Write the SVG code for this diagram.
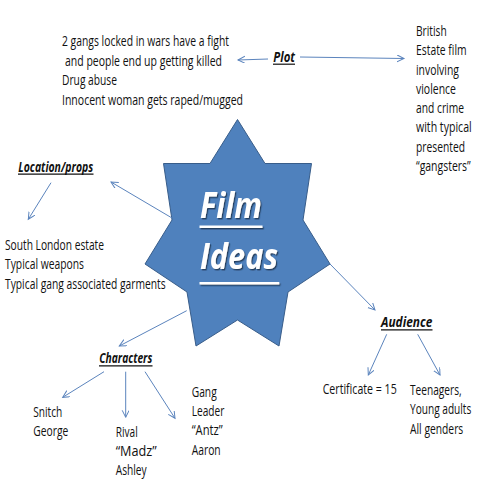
<svg xmlns="http://www.w3.org/2000/svg" width="480" height="480" viewBox="0 0 480 480">
<style>
.t{font-family:"Open Sans","Noto Sans","Liberation Sans",sans-serif;font-size:15px;fill:#111;transform:scale(0.7,1);transform-origin:0 0}
.h{font-family:"Open Sans","Noto Sans","Liberation Sans",sans-serif;font-size:15px;font-weight:bold;font-style:italic;fill:#111;transform:scale(0.7,1);transform-origin:0 0}
.ul{stroke:#111;stroke-width:1.2}
.big{font-family:"Open Sans","Noto Sans","Liberation Sans",sans-serif;font-size:36px;font-weight:bold;font-style:italic;fill:#fff}
.wl{stroke:#fff;stroke-width:2.6}
.c{stroke:#5b84bd;stroke-width:1;fill:none;marker-end:url(#ah)}
</style>
<defs>
<marker id="ah" markerUnits="userSpaceOnUse" markerWidth="10" markerHeight="10" refX="7" refY="3.5" orient="auto">
<path d="M0,0 L7,3.5 L0,7" fill="none" stroke="#5b84bd" stroke-width="1"/>
</marker>
<filter id="sh" x="-10%" y="-10%" width="130%" height="130%">
<feDropShadow dx="1.2" dy="1.4" stdDeviation="0.6" flood-color="#1c2f48" flood-opacity="0.8"/>
</filter>
</defs>
<rect width="480" height="480" fill="#fff"/>

<g id="film-ideas">
<polygon points="237.5,119.5 265,163.5 311.5,163.5 303,220 330,264 288,292 279,346 237.5,320 196,346 187,292 145,264 172,220 163.5,163.5 210,163.5" fill="#4f81bd" stroke="#385d8a" stroke-width="1"/>
<g filter="url(#sh)">
<text class="big" x="200" y="218.3" textLength="62" lengthAdjust="spacingAndGlyphs">Film</text>
<line class="wl" x1="199.5" y1="226.7" x2="262.5" y2="226.7"/>
<text class="big" x="200" y="269.3" textLength="78" lengthAdjust="spacingAndGlyphs">Ideas</text>
<line class="wl" x1="199.5" y1="283.3" x2="279.3" y2="283.3"/>
</g>
</g>

<g id="connectors">
<line class="c" x1="268" y1="59" x2="238" y2="60"/>
<line class="c" x1="300" y1="57" x2="404" y2="58.5"/>
<line class="c" x1="172" y1="218" x2="111" y2="182"/>
<line class="c" x1="51" y1="182.7" x2="28.3" y2="219.3"/>
<line class="c" x1="186.7" y1="310.7" x2="119.3" y2="346"/>
<line class="c" x1="104" y1="371.7" x2="62.7" y2="397.3"/>
<line class="c" x1="125.7" y1="371.7" x2="125.7" y2="417.3"/>
<line class="c" x1="145" y1="371.7" x2="175" y2="418.3"/>
<line class="c" x1="330" y1="264" x2="375" y2="310"/>
<line class="c" x1="386.7" y1="334.3" x2="368.3" y2="375"/>
<line class="c" x1="417.7" y1="334.3" x2="440" y2="375"/>
</g>

<g id="plot">
<text class="h" x="390.43" y="61.7" textLength="31" lengthAdjust="spacingAndGlyphs">Plot</text>
<line class="ul" x1="273" y1="64.2" x2="295" y2="64.2"/>
</g>

<g id="plot-details">
<text class="t" x="88.57" y="46.5" textLength="238.57" lengthAdjust="spacingAndGlyphs">2 gangs locked in wars have a fight</text>
<text class="t" x="92.86" y="66" textLength="224.29" lengthAdjust="spacingAndGlyphs">and people end up getting killed</text>
<text class="t" x="88.57" y="85.3" textLength="78.57" lengthAdjust="spacingAndGlyphs">Drug abuse</text>
<text class="t" x="88.57" y="104.6" textLength="258.57" lengthAdjust="spacingAndGlyphs">Innocent woman gets raped/mugged</text>
</g>

<g id="genre">
<text class="t" x="594.29" y="36" textLength="43.86" lengthAdjust="spacingAndGlyphs">British</text>
<text class="t" x="594.29" y="55.3" textLength="72.43" lengthAdjust="spacingAndGlyphs">Estate film</text>
<text class="t" x="594.29" y="74.6" textLength="61.43" lengthAdjust="spacingAndGlyphs">involving</text>
<text class="t" x="594.29" y="93.9" textLength="57.14" lengthAdjust="spacingAndGlyphs">violence</text>
<text class="t" x="594.29" y="113.2" textLength="68.57" lengthAdjust="spacingAndGlyphs">and crime</text>
<text class="t" x="594.29" y="132.5" textLength="79.57" lengthAdjust="spacingAndGlyphs">with typical</text>
<text class="t" x="594.29" y="151.8" textLength="70" lengthAdjust="spacingAndGlyphs">presented</text>
<text class="t" x="594.29" y="171.1" textLength="78.14" lengthAdjust="spacingAndGlyphs">“gangsters”</text>
</g>

<g id="location">
<text class="h" x="26.14" y="171.7" textLength="107.14" lengthAdjust="spacingAndGlyphs">Location/props</text>
<line class="ul" x1="18" y1="174.2" x2="93.5" y2="174.2"/>
</g>

<g id="location-details">
<text class="t" x="7.14" y="250" textLength="141.43" lengthAdjust="spacingAndGlyphs">South London estate</text>
<text class="t" x="7.14" y="269.3" textLength="112.86" lengthAdjust="spacingAndGlyphs">Typical weapons</text>
<text class="t" x="7.14" y="288.6" textLength="229.57" lengthAdjust="spacingAndGlyphs">Typical gang associated garments</text>
</g>

<g id="characters">
<text class="h" x="141.86" y="363.3" textLength="75.71" lengthAdjust="spacingAndGlyphs">Characters</text>
<line class="ul" x1="99" y1="365.8" x2="152.5" y2="365.8"/>
</g>

<g id="snitch">
<text class="t" x="47.57" y="416.7" textLength="41.43" lengthAdjust="spacingAndGlyphs">Snitch</text>
<text class="t" x="47.57" y="436" textLength="50" lengthAdjust="spacingAndGlyphs">George</text>
</g>

<g id="rival">
<text class="t" x="165.29" y="436.7" textLength="31.43" lengthAdjust="spacingAndGlyphs">Rival</text>
<text class="t" x="165.29" y="456" textLength="58.57" lengthAdjust="spacingAndGlyphs">“Madz”</text>
<text class="t" x="165.29" y="475.3" textLength="44.29" lengthAdjust="spacingAndGlyphs">Ashley</text>
</g>

<g id="gang-leader">
<text class="t" x="273.86" y="396.7" textLength="35.71" lengthAdjust="spacingAndGlyphs">Gang</text>
<text class="t" x="273.86" y="416" textLength="46.57" lengthAdjust="spacingAndGlyphs">Leader</text>
<text class="t" x="273.86" y="435.3" textLength="44.29" lengthAdjust="spacingAndGlyphs">“Antz”</text>
<text class="t" x="273.86" y="454.6" textLength="41.43" lengthAdjust="spacingAndGlyphs">Aaron</text>
</g>

<g id="audience">
<text class="h" x="544.29" y="327.3" textLength="73.29" lengthAdjust="spacingAndGlyphs">Audience</text>
<line class="ul" x1="381" y1="329.8" x2="432.5" y2="329.8"/>
</g>

<g id="certificate">
<text class="t" x="461" y="394.5" textLength="105.71" lengthAdjust="spacingAndGlyphs">Certificate = 15</text>
</g>

<g id="target">
<text class="t" x="585.71" y="395" textLength="73.86" lengthAdjust="spacingAndGlyphs">Teenagers,</text>
<text class="t" x="585.71" y="414.3" textLength="87.57" lengthAdjust="spacingAndGlyphs">Young adults</text>
<text class="t" x="585.71" y="433.6" textLength="76.14" lengthAdjust="spacingAndGlyphs">All genders</text>
</g>
</svg>
